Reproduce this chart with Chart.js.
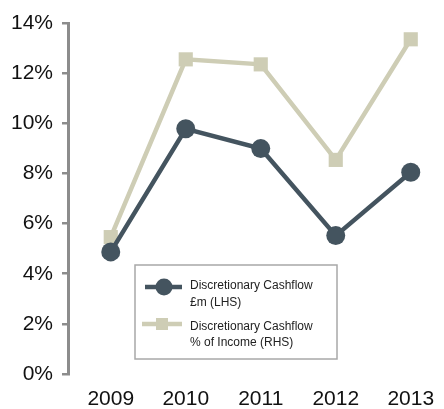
<!DOCTYPE html>
<html>
<head>
<meta charset="utf-8">
<script src="https://cdn.jsdelivr.net/npm/chart.js@4"></script>
<style>
  html, body { margin: 0; padding: 0; background: #fff; }
  #wrap { width: 444px; height: 409px; }
</style>
</head>
<body>
<div id="wrap"><canvas id="c" width="444" height="409"></canvas></div>
<script>
const years = [2009, 2010, 2011, 2012, 2013];
const cashflowLHS = [4.87, 9.78, 8.99, 5.52, 8.05];
const incomePctRHS = [5.46, 12.55, 12.35, 8.54, 13.35];
const yTickLabels = ['0%', '2%', '4%', '6%', '8%', '10%', '12%', '14%'];
const legendLHS = ['Discretionary Cashflow', '£m (LHS)'];
const legendRHS = ['Discretionary Cashflow', '% of Income (RHS)'];

const DARK = '#44545f';
const BEIGE = '#cecdb5';
const FONT = "'Liberation Sans', Arial, Helvetica, sans-serif";

const toPts = vals => years.map((y, i) => ({ x: y, y: vals[i] }));

const legendPlugin = {
  id: 'boxLegend',
  afterDatasetsDraw(chart) {
    const ctx = chart.ctx;
    ctx.save();
    const bx = 135, by = 265, bw = 202, bh = 94;
    ctx.fillStyle = '#fff';
    ctx.fillRect(bx, by, bw, bh);
    ctx.strokeStyle = '#a8a8a8';
    ctx.lineWidth = 1.5;
    ctx.strokeRect(bx, by, bw, bh);
    const entries = [
      { ds: chart.data.datasets[0], lines: legendLHS, sy: 287, ty: [286, 303], x1: 145 },
      { ds: chart.data.datasets[1], lines: legendRHS, sy: 324, ty: [327, 343], x1: 142 }
    ];
    entries.forEach(e => {
      ctx.strokeStyle = e.ds.borderColor;
      ctx.lineWidth = 4.5;
      ctx.beginPath();
      ctx.moveTo(e.x1, e.sy);
      ctx.lineTo(182, e.sy);
      ctx.stroke();
      ctx.fillStyle = e.ds.pointBackgroundColor;
      if (e.ds.pointStyle === 'circle') {
        ctx.beginPath();
        ctx.arc(164, e.sy, 8.5, 0, Math.PI * 2);
        ctx.fill();
      } else {
        ctx.fillRect(156, e.sy - 6, 12, 12);
      }
      ctx.fillStyle = '#222';
      ctx.font = '12px ' + FONT;
      ctx.textBaseline = 'middle';
      ctx.textAlign = 'left';
      e.lines.forEach((t, i) => ctx.fillText(t, 190, e.ty[i]));
    });
    ctx.restore();
  }
};

new Chart(document.getElementById('c'), {
  type: 'line',
  data: {
    datasets: [
      {
        label: legendLHS.join(' '),
        data: toPts(cashflowLHS),
        borderColor: DARK,
        backgroundColor: DARK,
        pointBackgroundColor: DARK,
        pointBorderColor: DARK,
        borderWidth: 4.5,
        pointStyle: 'circle',
        pointRadius: 9.5,
        pointBorderWidth: 0,
        tension: 0
      },
      {
        label: legendRHS.join(' '),
        data: toPts(incomePctRHS),
        borderColor: BEIGE,
        backgroundColor: BEIGE,
        pointBackgroundColor: BEIGE,
        pointBorderColor: BEIGE,
        borderWidth: 4.5,
        pointStyle: 'rect',
        pointRadius: 10,
        pointBorderWidth: 0,
        tension: 0
      }
    ]
  },
  options: {
    responsive: false,
    animation: false,
    layout: { padding: { top: 23, right: 4, left: 0, bottom: 0 } },
    plugins: { legend: { display: false }, tooltip: { enabled: false } },
    scales: {
      x: {
        type: 'linear',
        min: 2008.43,
        max: 2013.31,
        grid: { display: false },
        border: { display: false },
        ticks: {
          stepSize: 1,
          includeBounds: false,
          autoSkip: false,
          maxRotation: 0,
          padding: 5,
          color: '#111',
          font: { family: FONT, size: 21 },
          callback: v => Number.isInteger(v) ? String(v) : ''
        },
        afterFit: s => { s.height = 35; }
      },
      y: {
        min: 0,
        max: 14,
        grid: { drawOnChartArea: false, drawTicks: true, tickLength: 6, color: '#8c8c8c', lineWidth: 2.5 },
        border: { display: true, color: '#8c8c8c', width: 3 },
        ticks: {
          stepSize: 2,
          padding: 9,
          color: '#111',
          font: { family: FONT, size: 21 },
          callback: (v) => yTickLabels[Math.round(v / 2)]
        },
        afterFit: s => { s.width = 68; }
      }
    }
  },
  plugins: [legendPlugin]
});
</script>
</body>
</html>
